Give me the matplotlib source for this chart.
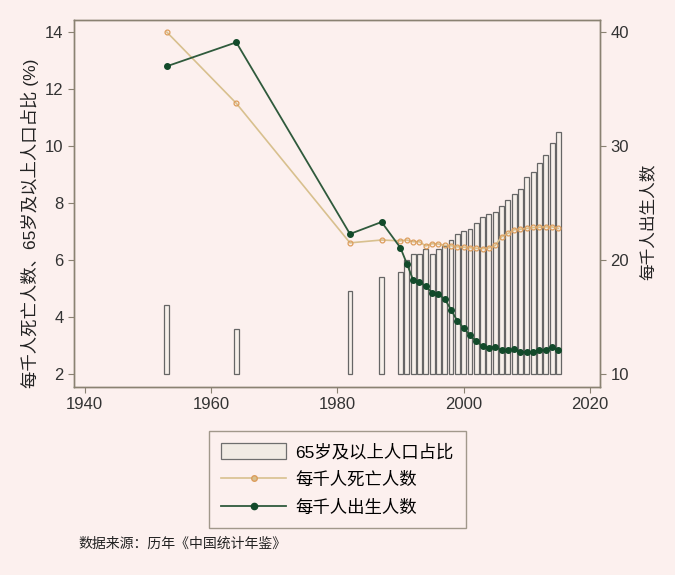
import matplotlib
matplotlib.use("Agg")
import matplotlib.pyplot as plt
from matplotlib.patches import Patch
from matplotlib.lines import Line2D

plt.rcParams['font.family'] = ['Liberation Sans', 'Noto Sans CJK SC', 'DejaVu Sans']

years = [1953, 1964, 1982, 1987, 1990, 1991, 1992, 1993, 1994, 1995, 1996, 1997,
         1998, 1999, 2000, 2001, 2002, 2003, 2004, 2005, 2006, 2007, 2008, 2009,
         2010, 2011, 2012, 2013, 2014, 2015]
aged_share = [4.41, 3.56, 4.91, 5.40, 5.57, 6.0, 6.2, 6.2, 6.4, 6.2, 6.4, 6.5,
              6.7, 6.9, 7.0, 7.1, 7.3, 7.5, 7.6, 7.7, 7.9, 8.1, 8.3, 8.5,
              8.9, 9.1, 9.4, 9.7, 10.1, 10.5]
death_rate = [14.0, 11.5, 6.6, 6.7, 6.67, 6.70, 6.64, 6.64, 6.49, 6.57, 6.56, 6.51,
              6.50, 6.46, 6.45, 6.43, 6.41, 6.40, 6.42, 6.51, 6.81, 6.93, 7.06, 7.08,
              7.11, 7.14, 7.15, 7.16, 7.16, 7.11]
birth_rate = [37.0, 39.1, 22.28, 23.33, 21.06, 19.68, 18.24, 18.09, 17.70, 17.12, 16.98, 16.57,
              15.64, 14.64, 14.03, 13.38, 12.86, 12.41, 12.29, 12.40, 12.09, 12.10, 12.14, 11.95,
              11.90, 11.93, 12.10, 12.08, 12.37, 12.07]

bg = '#fcf0ee'
spine_c = '#8a8272'
death_line_c = '#d8c08e'
death_mark_c = '#dc9d5c'
birth_c = '#124a2a'
birth_line_c = '#2f5a3c'

fig = plt.figure(figsize=(6.75, 5.75), dpi=100, facecolor=bg)
ax = fig.add_axes([0.1096, 0.327, 0.7794, 0.638])
ax.set_facecolor(bg)
ax2 = ax.twinx()

base = 2.0
ax.bar(years, [v - base for v in aged_share], bottom=base, width=0.78,
       color='#f7f0ea', edgecolor='#666666', linewidth=0.9, zorder=1)
ax.plot(years, death_rate, color=death_line_c, linewidth=1.2, marker='o',
        markersize=3.5, markerfacecolor='none', markeredgecolor=death_mark_c,
        markeredgewidth=0.9, zorder=3)
ax2.plot(years, birth_rate, color=birth_line_c, linewidth=1.3, marker='o',
         markersize=4, markerfacecolor=birth_c, markeredgecolor=birth_c, zorder=3)

ax.set_xlim(1938.3, 2021.6)
ax.set_ylim(1.54, 14.42)
ax2.set_ylim(8.85, 41.05)
ax.set_xticks([1940, 1960, 1980, 2000, 2020])
ax.set_yticks([2, 4, 6, 8, 10, 12, 14])
ax2.set_yticks([10, 20, 30, 40])

for a in (ax, ax2):
    for s in a.spines.values():
        s.set_color(spine_c)
        s.set_linewidth(1.0)
    a.tick_params(colors='#333333', labelsize=12, length=4.5, width=0.8, pad=3)
    a.tick_params(axis='both', color=spine_c)

ax.set_ylabel('每千人死亡人数、65岁及以上人口占比 (%)', fontsize=12.5, color='#222222', labelpad=5)
ax.yaxis.set_label_coords(-0.067, 0.445)
ax2.set_ylabel('每千人出生人数', fontsize=12, color='#222222', labelpad=6)
ax2.yaxis.set_label_coords(1.075, 0.45)

handles = [
    Patch(facecolor='#f1ebe4', edgecolor='#6e6e6e', linewidth=0.9),
    Line2D([], [], color=death_line_c, linewidth=1.2, marker='o', markersize=4,
           markerfacecolor=death_line_c, markeredgecolor=death_mark_c),
    Line2D([], [], color=birth_line_c, linewidth=1.3, marker='o', markersize=4.5,
           markerfacecolor=birth_c, markeredgecolor=birth_c),
]
labels = ['65岁及以上人口占比', '每千人死亡人数', '每千人出生人数']
leg = fig.legend(handles, labels, loc='upper center', bbox_to_anchor=(0.5, 0.251),
                 fontsize=12.5, frameon=True, fancybox=False, handlelength=3.7,
                 handleheight=1.1, borderpad=0.7, labelspacing=0.62, handletextpad=0.55,
                 borderaxespad=0)
leg.get_frame().set_edgecolor('#8a8272')
leg.get_frame().set_facecolor(bg)
leg.get_frame().set_linewidth(1.0)

fig.text(0.116, 0.055, '数据来源：历年《中国统计年鉴》', fontsize=10, color='#222222',
         va='center', ha='left')

fig.savefig('out.png', dpi=100, facecolor=bg)
